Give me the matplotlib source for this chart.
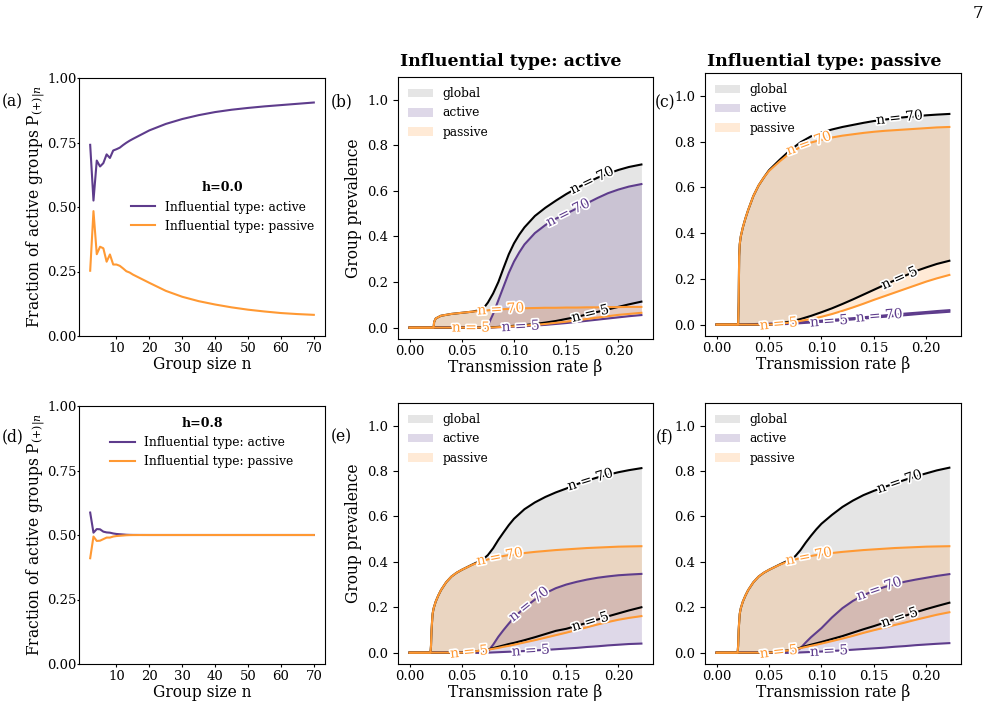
import numpy as np
import matplotlib
matplotlib.use("Agg")
import matplotlib.pyplot as plt
import matplotlib.patheffects as pe

plt.rcParams['font.family'] = 'serif'
plt.rcParams['font.serif'] = ['DejaVu Serif']
plt.rcParams['mathtext.fontset'] = 'dejavuserif'

PURPLE = '#5e3c8c'
ORANGE = '#ff9933'
BLACK = 'black'

# ---------------- left column: fraction of active groups ----------------
n_vals = [2, 3, 4, 5, 6, 7, 8, 9, 10, 11, 12, 13, 14, 15, 20, 25, 30, 35, 40, 45, 50, 55, 60, 65, 70]
h0_active = [0.741, 0.525, 0.680, 0.657, 0.670, 0.704, 0.690, 0.719, 0.724, 0.730, 0.740, 0.749, 0.757, 0.764,
             0.797, 0.822, 0.841, 0.856, 0.868, 0.877, 0.884, 0.890, 0.895, 0.900, 0.905]
h0_passive = [0.253, 0.484, 0.317, 0.346, 0.340, 0.288, 0.316, 0.277, 0.277, 0.272, 0.262, 0.251, 0.246, 0.238,
              0.206, 0.175, 0.152, 0.135, 0.122, 0.111, 0.102, 0.095, 0.089, 0.085, 0.082]
h8_active = [0.587, 0.509, 0.523, 0.522, 0.513, 0.510, 0.509, 0.506, 0.504, 0.503, 0.502, 0.501, 0.5005, 0.5003,
             0.5, 0.5, 0.5, 0.5, 0.5, 0.5, 0.5, 0.5, 0.5, 0.5, 0.5]
h8_passive = [0.410, 0.494, 0.477, 0.478, 0.484, 0.490, 0.490, 0.494, 0.496, 0.497, 0.498, 0.499, 0.4995, 0.4997,
              0.5, 0.5, 0.5, 0.5, 0.5, 0.5, 0.5, 0.5, 0.5, 0.5, 0.5]

# ---------------- panel (b): h=0, influential active ----------------
beta_b = [0, 0.022, 0.023, 0.0235, 0.025, 0.03, 0.04, 0.05, 0.06, 0.07, 0.075, 0.08, 0.085, 0.09, 0.095, 0.1,
          0.105, 0.11, 0.12, 0.13, 0.14, 0.15, 0.16, 0.17, 0.18, 0.19, 0.2, 0.21, 0.222]
b_glob70 = [0, 0, 0, 0.025, 0.04, 0.052, 0.06, 0.065, 0.07, 0.08, 0.11, 0.15, 0.2, 0.262, 0.322, 0.37,
            0.408, 0.44, 0.49, 0.526, 0.557, 0.586, 0.612, 0.636, 0.658, 0.676, 0.692, 0.705, 0.716]
b_glob5 = [0, 0, 0, 0, 0, 0, 0, 0, 0, 0, 0.001, 0.002, 0.003, 0.005, 0.006, 0.008,
           0.009, 0.011, 0.016, 0.022, 0.029, 0.038, 0.047, 0.058, 0.069, 0.080, 0.091, 0.102, 0.114]
b_act70 = [0, 0, 0, 0, 0, 0, 0, 0, 0, 0, 0.01, 0.06, 0.12, 0.18, 0.24, 0.29,
           0.33, 0.365, 0.415, 0.45, 0.478, 0.5, 0.523, 0.546, 0.569, 0.59, 0.606, 0.619, 0.63]
b_act5 = [0, 0, 0, 0, 0, 0, 0, 0, 0, 0, 0, 0.001, 0.002, 0.003, 0.003, 0.004,
          0.005, 0.006, 0.009, 0.012, 0.016, 0.020, 0.025, 0.030, 0.035, 0.040, 0.045, 0.050, 0.055]
b_pas70 = [0, 0, 0, 0.025, 0.04, 0.052, 0.06, 0.065, 0.07, 0.074, 0.076, 0.078, 0.08, 0.081, 0.082, 0.083,
           0.084, 0.085, 0.086, 0.087, 0.087, 0.088, 0.088, 0.089, 0.089, 0.09, 0.09, 0.091, 0.091]
b_pas5 = [0, 0, 0, 0, 0, 0, 0, 0, 0, 0, 0.0005, 0.001, 0.002, 0.003, 0.0045, 0.006,
          0.0075, 0.009, 0.012, 0.016, 0.021, 0.026, 0.032, 0.038, 0.044, 0.050, 0.056, 0.060, 0.065]

# ---------------- panel (c): h=0, influential passive ----------------
beta_c = [0, 0.02, 0.0205, 0.021, 0.0215, 0.022, 0.023, 0.025, 0.0275, 0.03, 0.035, 0.04, 0.045, 0.05, 0.06,
          0.07, 0.08, 0.09, 0.1, 0.11, 0.12, 0.13, 0.14, 0.15, 0.16, 0.17, 0.18, 0.19, 0.2, 0.21, 0.222]
c_pas70 = [0, 0, 0, 0.1, 0.3, 0.35, 0.385, 0.425, 0.465, 0.5, 0.562, 0.608, 0.643, 0.672, 0.713,
           0.75, 0.777, 0.796, 0.808, 0.818, 0.826, 0.832, 0.838, 0.843, 0.847, 0.85, 0.853, 0.856, 0.859, 0.862, 0.864]
c_glob70 = [0, 0, 0, 0.1, 0.3, 0.35, 0.385, 0.425, 0.465, 0.5, 0.562, 0.608, 0.643, 0.675, 0.72,
            0.762, 0.797, 0.823, 0.84, 0.853, 0.864, 0.873, 0.882, 0.89, 0.896, 0.902, 0.907, 0.911, 0.915, 0.918, 0.921]
c_glob5 = [0, 0, 0, 0, 0, 0, 0, 0, 0, 0, 0, 0, 0, 0, 0.005,
           0.013, 0.024, 0.038, 0.054, 0.071, 0.09, 0.11, 0.131, 0.152, 0.173, 0.194, 0.214, 0.234, 0.25, 0.265, 0.279]
c_pas5 = [0, 0, 0, 0, 0, 0, 0, 0, 0, 0, 0, 0, 0, 0, 0.003,
          0.009, 0.016, 0.024, 0.034, 0.046, 0.06, 0.075, 0.091, 0.108, 0.124, 0.14, 0.156, 0.172, 0.188, 0.202, 0.217]
c_act70 = [0, 0, 0, 0, 0, 0, 0, 0, 0, 0.001, 0.002, 0.003, 0.0035, 0.004, 0.006,
           0.008, 0.0105, 0.013, 0.017, 0.0205, 0.024, 0.028, 0.032, 0.036, 0.04, 0.044, 0.048, 0.0515, 0.055, 0.059, 0.063]
c_act5 = [0, 0, 0, 0, 0, 0, 0, 0, 0, 0, 0, 0, 0, 0, 0.001,
          0.003, 0.006, 0.009, 0.012, 0.0155, 0.019, 0.0225, 0.026, 0.03, 0.034, 0.0375, 0.041, 0.045, 0.049, 0.052, 0.056]

# ---------------- panels (e), (f): h=0.8 ----------------
beta_ef = [0, 0.02, 0.0205, 0.021, 0.022, 0.023, 0.025, 0.0275, 0.03, 0.035, 0.04, 0.045, 0.05, 0.06, 0.07,
           0.075, 0.08, 0.085, 0.09, 0.095, 0.1, 0.11, 0.12, 0.13, 0.14, 0.15, 0.16, 0.17, 0.18, 0.19, 0.2, 0.21, 0.222]
e_pas70 = [0, 0, 0.03, 0.1, 0.17, 0.195, 0.225, 0.252, 0.275, 0.31, 0.335, 0.352, 0.365, 0.387, 0.405,
           0.411, 0.417, 0.421, 0.426, 0.43, 0.433, 0.439, 0.444, 0.448, 0.452, 0.455, 0.458, 0.461, 0.463, 0.465, 0.467, 0.468, 0.469]
e_glob70 = [0, 0, 0.03, 0.1, 0.17, 0.195, 0.225, 0.252, 0.275, 0.31, 0.335, 0.352, 0.365, 0.388, 0.41,
            0.43, 0.46, 0.497, 0.53, 0.562, 0.59, 0.632, 0.662, 0.686, 0.706, 0.723, 0.742, 0.758, 0.772, 0.784, 0.795, 0.804, 0.813]
e_act70 = [0, 0, 0, 0, 0, 0, 0, 0, 0, 0, 0, 0, 0, 0, 0,
           0.005, 0.035, 0.07, 0.1, 0.128, 0.155, 0.198, 0.234, 0.262, 0.284, 0.3, 0.312, 0.322, 0.33, 0.336, 0.341, 0.344, 0.347]
e_glob5 = [0, 0, 0, 0, 0, 0, 0, 0, 0, 0, 0, 0, 0, 0.004, 0.01,
           0.014, 0.02, 0.026, 0.032, 0.038, 0.043, 0.055, 0.068, 0.082, 0.096, 0.105, 0.118, 0.132, 0.146, 0.16, 0.173, 0.186, 0.2]
e_pas5 = [0, 0, 0, 0, 0, 0, 0, 0, 0, 0, 0, 0, 0, 0.004, 0.01,
          0.013, 0.017, 0.021, 0.026, 0.03, 0.035, 0.045, 0.055, 0.066, 0.077, 0.088, 0.1, 0.112, 0.124, 0.135, 0.145, 0.153, 0.161]
e_act5 = [0, 0, 0, 0, 0, 0, 0, 0, 0, 0, 0, 0, 0, 0, 0,
          0, 0.001, 0.002, 0.003, 0.004, 0.005, 0.007, 0.01, 0.012, 0.015, 0.018, 0.021, 0.025, 0.028, 0.032, 0.035, 0.038, 0.04]

f_pas70 = e_pas70
f_glob70 = [0, 0, 0.03, 0.1, 0.17, 0.195, 0.225, 0.252, 0.275, 0.31, 0.335, 0.352, 0.365, 0.388, 0.41,
            0.425, 0.452, 0.485, 0.515, 0.543, 0.568, 0.607, 0.642, 0.67, 0.694, 0.713, 0.73, 0.746, 0.762, 0.777, 0.79, 0.803, 0.815]
f_act70 = [0, 0, 0, 0, 0, 0, 0, 0, 0, 0, 0, 0, 0, 0, 0,
           0.003, 0.02, 0.045, 0.068, 0.088, 0.108, 0.155, 0.196, 0.228, 0.253, 0.273, 0.289, 0.302, 0.313, 0.322, 0.33, 0.338, 0.346]
f_glob5 = [0, 0, 0, 0, 0, 0, 0, 0, 0, 0, 0, 0, 0, 0.004, 0.012,
           0.016, 0.022, 0.029, 0.035, 0.041, 0.047, 0.06, 0.073, 0.088, 0.103, 0.117, 0.132, 0.148, 0.163, 0.178, 0.192, 0.205, 0.22]
f_pas5 = [0, 0, 0, 0, 0, 0, 0, 0, 0, 0, 0, 0, 0, 0.004, 0.011,
          0.015, 0.02, 0.025, 0.03, 0.035, 0.04, 0.051, 0.062, 0.074, 0.087, 0.099, 0.11, 0.122, 0.133, 0.145, 0.156, 0.167, 0.178]
f_act5 = [0, 0, 0, 0, 0, 0, 0, 0, 0, 0, 0, 0, 0, 0, 0,
          0, 0.001, 0.002, 0.003, 0.004, 0.005, 0.0075, 0.01, 0.013, 0.016, 0.019, 0.022, 0.026, 0.029, 0.033, 0.036, 0.039, 0.042]

# ---------------- figure ----------------
W, H = 1001, 706
fig = plt.figure(figsize=(W / 100, H / 100), dpi=100)


def pos(l, t, r, b):
    return [l / W, 1 - b / H, (r - l) / W, (b - t) / H]


TICK_FS = 9.5
LAB_FS = 11.2
LEG_FS = 8.8


def left_panel(rect, act, pas, title, legloc, anchor):
    ax = fig.add_axes(pos(*rect))
    ax.plot(n_vals, act, color=PURPLE, lw=1.5, label='Influential type: active')
    ax.plot(n_vals, pas, color=ORANGE, lw=1.5, label='Influential type: passive')
    ax.set_ylim(0, 1)
    ax.set_yticks([0, 0.25, 0.5, 0.75, 1.0])
    ax.set_xticks([10, 20, 30, 40, 50, 60, 70])
    ax.tick_params(labelsize=TICK_FS)
    ax.tick_params(axis='x', length=2.5, pad=1.5)
    ax.tick_params(axis='y', length=1.5, pad=0.4)
    ax.set_xlabel('Group size n', fontsize=LAB_FS, labelpad=1)
    ax.set_ylabel(r'Fraction of active groups P$_{(+)|n}$', fontsize=LAB_FS)
    ax.yaxis.set_label_coords(-0.124, 0.5)
    ax.legend(loc=legloc, bbox_to_anchor=anchor, frameon=False, fontsize=LEG_FS,
              title=title, title_fontproperties={'weight': 'bold', 'size': 9})
    return ax


left_panel((79, 78, 325, 336), h0_active, h0_passive, 'h=0.0', 'center right', (1.0, 0.5))
left_panel((79, 406, 325, 664), h8_active, h8_passive, 'h=0.8', 'upper center', (0.5, 1.0))


def label_line(ax, x, y, xpos, text, color):
    x = np.asarray(x, float)
    y = np.asarray(y, float)
    yv = np.interp(xpos, x, y)
    d = 0.006
    p1 = ax.transData.transform((xpos - d, np.interp(xpos - d, x, y)))
    p2 = ax.transData.transform((xpos + d, np.interp(xpos + d, x, y)))
    ang = np.degrees(np.arctan2(p2[1] - p1[1], p2[0] - p1[0]))
    ax.text(xpos, yv, text, color=color, fontsize=10, rotation=ang, rotation_mode='anchor',
            ha='center', va='center', zorder=6,
            path_effects=[pe.withStroke(linewidth=2.5, foreground='white')])


def right_panel(rect, beta, glob70, glob5, act70, act5, pas70, pas5, labels, ylabel):
    ax = fig.add_axes(pos(*rect))
    ax.set_xlim(-0.0111, 0.2331)
    ax.set_ylim(-0.05, 1.1)
    ax.fill_between(beta, glob5, glob70, color='grey', alpha=0.2, lw=0, label='global')
    ax.fill_between(beta, act5, act70, color=PURPLE, alpha=0.2, lw=0, label='active')
    ax.fill_between(beta, pas5, pas70, color=ORANGE, alpha=0.2, lw=0, label='passive')
    curves = {
        'g70': (glob70, BLACK), 'g5': (glob5, BLACK),
        'a70': (act70, PURPLE), 'a5': (act5, PURPLE),
        'p70': (pas70, ORANGE), 'p5': (pas5, ORANGE),
    }
    for key in ['a5', 'a70', 'g5', 'g70', 'p5', 'p70']:
        yv, c = curves[key]
        ax.plot(beta, yv, color=c, lw=1.5, zorder=3)
    for key, xp in labels.items():
        yv, c = curves[key]
        label_line(ax, beta, yv, xp, 'n = 70' if key.endswith('70') else 'n = 5', c)
    ax.set_xticks([0, 0.05, 0.1, 0.15, 0.2])
    ax.set_xticklabels(['0.00', '0.05', '0.10', '0.15', '0.20'])
    ax.set_yticks([0, 0.2, 0.4, 0.6, 0.8, 1.0])
    ax.tick_params(labelsize=TICK_FS)
    ax.tick_params(axis='x', length=2.5, pad=1.5)
    ax.set_xlabel('Transmission rate β', fontsize=LAB_FS, labelpad=1)
    if ylabel:
        ax.set_ylabel('Group prevalence', fontsize=LAB_FS)
    ax.legend(loc='upper left', frameon=False, fontsize=LEG_FS, borderaxespad=0.45)
    return ax


right_panel((398, 77, 653, 339), beta_b, b_glob70, b_glob5, b_act70, b_act5, b_pas70, b_pas5,
            {'g70': 0.1746, 'a70': 0.1517, 'p70': 0.0873, 'p5': 0.0587, 'a5': 0.1063, 'g5': 0.173}, True)
right_panel((705, 73, 961, 336), beta_c, c_glob70, c_glob5, c_act70, c_act5, c_pas70, c_pas5,
            {'g70': 0.1744, 'p70': 0.088, 'g5': 0.1744, 'p5': 0.0592, 'a5': 0.1072, 'a70': 0.155}, False)
right_panel((398, 403, 653, 664), beta_ef, e_glob70, e_glob5, e_act70, e_act5, e_pas70, e_pas5,
            {'g70': 0.173, 'p70': 0.0863, 'a70': 0.1143, 'g5': 0.173, 'p5': 0.057, 'a5': 0.116}, True)
right_panel((705, 403, 961, 664), beta_ef, f_glob70, f_glob5, f_act70, f_act5, f_pas70, f_pas5,
            {'g70': 0.1744, 'p70': 0.088, 'a70': 0.155, 'g5': 0.1744, 'p5': 0.0592, 'a5': 0.1072}, False)

# titles
fig.text(400 / W, 1 - 61 / H, 'Influential type: active', fontsize=12.5, fontweight='bold', ha='left', va='center')
fig.text(707 / W, 1 - 61 / H, 'Influential type: passive', fontsize=12.5, fontweight='bold', ha='left', va='center')

# panel letters
for lab, x, y in [('(a)', 2, 102), ('(b)', 331, 102), ('(c)', 655, 103),
                  ('(d)', 2, 437), ('(e)', 331, 437), ('(f)', 656, 437)]:
    fig.text(x / W, 1 - y / H, lab, fontsize=11.2, ha='left', va='center')

fig.text(973 / W, 1 - 13 / H, '7', fontsize=12, ha='left', va='center')

fig.savefig('out.png', dpi=100)
